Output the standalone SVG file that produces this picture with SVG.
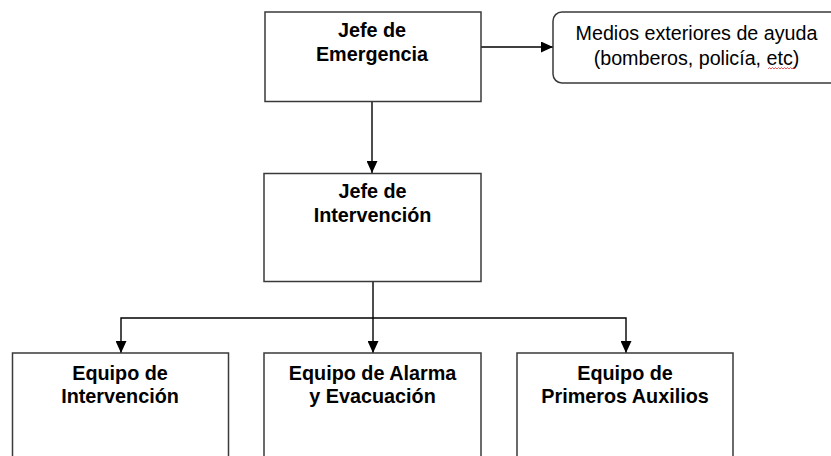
<svg xmlns="http://www.w3.org/2000/svg" width="831" height="456" viewBox="0 0 831 456">
<style>
.box{fill:#ffffff;stroke:#3a3a3a;stroke-width:1.5}
.conn{fill:none;stroke:#000000;stroke-width:1.4}
.b{font-family:"Liberation Sans",Arial,sans-serif;font-weight:bold;font-size:19.8px;fill:#000;text-anchor:middle}
.r{font-family:"Liberation Sans",Arial,sans-serif;font-size:19.7px;fill:#000;text-anchor:middle}
</style>
<defs>
<marker id="arr" markerUnits="userSpaceOnUse" markerWidth="12" markerHeight="11" refX="12" refY="5.5" orient="auto">
<path d="M0,0 L12,5.5 L0,11 Z" fill="#000"/>
</marker>
</defs>
<rect width="831" height="456" fill="#ffffff"/>
<g id="connectors">
<path class="conn" d="M481,47 H553" marker-end="url(#arr)"/>
<path class="conn" d="M372,101.5 V173" marker-end="url(#arr)"/>
<path class="conn" d="M373,282 V353" marker-end="url(#arr)"/>
<path class="conn" d="M373,318 H121 V353" marker-end="url(#arr)"/>
<path class="conn" d="M373,318 H626 V353" marker-end="url(#arr)"/>
</g>
<g id="jefe-emergencia">
<rect class="box" x="265" y="12" width="216" height="89.5"/>
<text class="b" x="372" y="37">Jefe de</text>
<text class="b" x="372" y="61">Emergencia</text>
</g>
<g id="medios-exteriores">
<rect class="box" x="553" y="12" width="290" height="71" rx="9" ry="9"/>
<text class="r" x="696.5" y="40">Medios exteriores de ayuda</text>
<text class="r" x="696.5" y="65">(bomberos, policía, etc)</text>
<path d="M768,69 l1.5,-1.5 l1.5,1.5 l1.5,-1.5 l1.5,1.5 l1.5,-1.5 l1.5,1.5 l1.5,-1.5 l1.5,1.5 l1.5,-1.5 l1.5,1.5 l1.5,-1.5 l1.5,1.5 l1.5,-1.5 l1.5,1.5 l1.5,-1.5 l1.5,1.5 l1.5,-1.5 l1.5,1.5" fill="none" stroke="#e03030" stroke-width="0.8"/>
</g>
<g id="jefe-intervencion">
<rect class="box" x="264" y="173.5" width="217" height="108"/>
<text class="b" x="372.5" y="198">Jefe de</text>
<text class="b" x="372.5" y="222">Intervención</text>
</g>
<g id="equipo-intervencion">
<rect class="box" x="12.5" y="353" width="216" height="120"/>
<text class="b" x="120" y="380">Equipo de</text>
<text class="b" x="120" y="403">Intervención</text>
</g>
<g id="equipo-alarma">
<rect class="box" x="264" y="353" width="217" height="120"/>
<text class="b" x="372.5" y="380">Equipo de Alarma</text>
<text class="b" x="372.5" y="403">y Evacuación</text>
</g>
<g id="equipo-primeros-auxilios">
<rect class="box" x="517" y="353" width="216" height="120"/>
<text class="b" x="625" y="380">Equipo de</text>
<text class="b" x="625" y="403">Primeros Auxilios</text>
</g>
</svg>
